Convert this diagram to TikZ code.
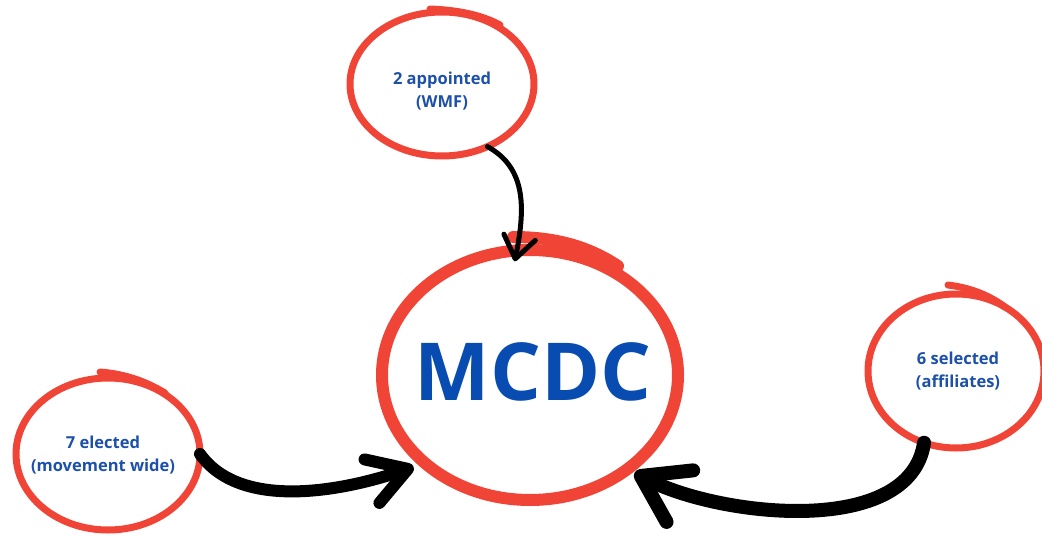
\documentclass[tikz,border=0pt]{standalone}
\usepackage{fontspec}
\setmainfont{Open Sans}
\usetikzlibrary{shapes.geometric,arrows.meta}
\definecolor{ringred}{RGB}{240,68,55}
\definecolor{textblue}{RGB}{28,80,170}
\definecolor{bigblue}{RGB}{8,76,178}
\tikzset{
  ring/.style={shape=ellipse, draw=ringred, line width=7pt, inner sep=0pt, outer sep=0pt},
  bigring/.style={ring, line width=12pt},
  tailstroke/.style={draw=ringred, line width=7pt, line cap=round},
  bigstroke/.style={draw=ringred, line width=12pt, line cap=round, line join=round},
  smalltext/.style={text=textblue, font=\fontsize{16.5}{23.5}\selectfont\bfseries, align=center, inner sep=0pt},
  bigtext/.style={text=bigblue, font=\fontsize{80}{84}\selectfont\bfseries, inner sep=0pt},
  flow/.style={draw=black, line cap=round, line join=round},
}
\begin{document}
\begin{tikzpicture}[x=1pt,y=-1pt]
\useasboundingbox (0,0) rectangle (1042,538);
% rings
\node[ring, minimum width=184pt, minimum height=144pt] (top) at (442,84) {};
\node[ring, minimum width=184pt, minimum height=152pt] (left) at (108,454) {};
\node[ring, minimum width=176pt, minimum height=154pt] (right) at (956,371) {};
\node[bigring, minimum width=296pt, minimum height=250pt] (main) at (530,375) {};
% hand-drawn overlaps
\draw[tailstroke] (430,9) .. controls (455,10) and (480,14) .. (500,25);
\draw[tailstroke] (100,372) .. controls (125,374) and (145,381) .. (165,393);
\draw[tailstroke] (948,285) .. controls (972,288) and (990,296) .. (1005,307);
\draw[bigstroke] (513,237) .. controls (550,237) and (585,244) .. (618,266);
% texts
\node[smalltext] (toptext) at (442,91) {2 appointed\\(WMF)};
\node[smalltext] (lefttext) at (103,455) {7 elected\\(movement wide)};
\node[smalltext] (righttext) at (958,371) {6 selected\\(affiliates)};
\node[bigtext] (maintext) at (533,372) {MCDC};
% connectors
\draw[flow, line width=5pt, -{Straight Barb[length=22pt, width=32pt, round]}, shorten >=-11pt]
  (top.-54) .. controls +(40,22) and +(8,-40) .. (main.96);
\draw[flow, line width=12pt, -{Straight Barb[length=38pt, width=46pt, round]}, shorten >=12pt]
  (left.east) .. controls +(40,56) and +(-85,29) .. (main.220);
\draw[flow, line width=14pt, -{Straight Barb[length=44pt, width=58pt, round]}, shorten >=8pt]
  (right.-114) .. controls +(-14,95) and +(93,48) .. (main.-44);
\end{tikzpicture}
\end{document}
